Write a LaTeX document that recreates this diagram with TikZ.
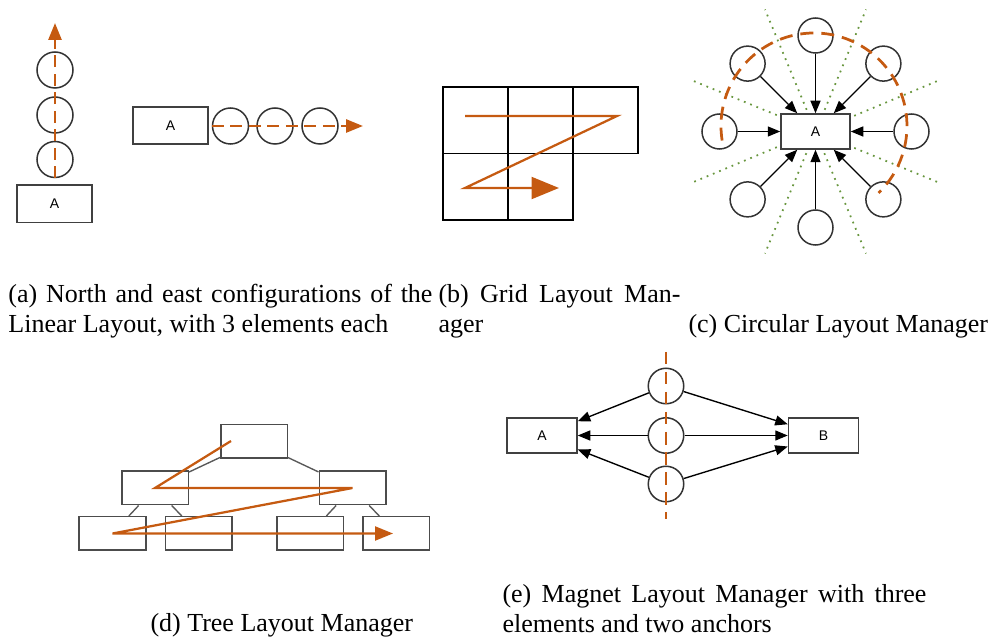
\documentclass[tikz,border=0pt]{standalone}
\usepackage{fontspec}
\setmainfont{Liberation Serif}
\newfontfamily\boxfont{Liberation Sans}
\usetikzlibrary{arrows.meta,calc}
\definecolor{layorange}{RGB}{197,90,17}
\definecolor{cutgreen}{RGB}{104,150,62}
\tikzset{
  comp/.style={draw=black!75, line width=0.6pt, minimum width=30pt, minimum height=15pt, inner sep=0pt, font=\boxfont\fontsize{5.6}{6}\selectfont},
  elem/.style={draw=black!80, circle, line width=0.6pt, minimum size=14.4pt, inner sep=0pt},
  cell/.style={draw, line width=0.6pt, minimum width=26pt, minimum height=26.6pt, inner sep=0pt},
  tbox/.style={draw=black!70, line width=0.6pt, minimum width=26.6pt, minimum height=13.4pt, inner sep=0pt},
  flow/.style={draw=layorange, line width=1.1pt, dash pattern=on 4.8pt off 2.6pt},
  pull/.style={draw, line width=0.55pt, -{Triangle[length=5pt,width=4pt]}},
  subcap/.style={inner sep=0pt, font=\fontsize{10.4}{12}\selectfont},
}
\begin{document}
\begin{tikzpicture}[x=0.4pt,y=0.4pt]
\useasboundingbox (0,0) rectangle (995,641);

% (a) linear layout, north
\node[comp] (na) at (54.5,437) {A};
\node[elem] (n1) at (55,481.5) {};
\node[elem] (n2) at (55,526) {};
\node[elem] (n3) at (55,571) {};
\coordinate (ntip) at (55,618);
\path[flow,-{Triangle[length=6.8pt,width=5.2pt]}] (n1.south) -- (ntip);

% (a) linear layout, east
\node[comp, minimum height=14.8pt] (ea) at (170.5,515.5) {A};
\node[elem] (e1) at (230.5,515) {};
\node[elem] (e2) at (275,515) {};
\node[elem] (e3) at (320,515) {};
\coordinate (etip) at (363,515);
\path[flow,-{Triangle[length=6.8pt,width=5.2pt]}] (e1.west) -- (etip);

% (b) grid
\foreach \n/\x/\y in {g1/475.5/520.5, g2/540.5/520.5, g3/605.5/520.5, g4/475.5/454, g5/540.5/454}
  \node[cell] (\n) at (\x,\y) {};
\coordinate (z1) at (465,525);
\coordinate (z2) at (617,525);
\coordinate (z3) at (465,453);
\coordinate (z4) at (559,453);
\draw[layorange, line width=0.9pt, -{Triangle[length=11pt,width=8.8pt]}] (z1) -- (z2) -- (z3) -- (z4);

% (c) circular
\node[comp, minimum width=27.6pt, minimum height=14pt] (ca) at (815.5,509.5) {A};
\foreach \a in {22.5,67.5,...,337.5}
  \draw[cutgreen, dotted, line width=0.7pt, shorten <=1.5pt] (ca.\a) -- ($(ca)+(\a:132)$);
\foreach \a in {0,45,...,315} {
  \node[elem, minimum size=14pt] (c\a) at ($(ca)+(\a:96)$) {};
  \draw[pull] (c\a) -- (ca);
}
\draw[flow, dash pattern=on 5.2pt off 3.2pt] ($(ca)+(-1.5,5.5)+(189:93)$) arc[start angle=189, end angle=-46, radius=93];

% (d) tree
\node[tbox] (root) at (254,199.5) {};
\node[tbox] (ml) at (155,153) {};
\node[tbox] (mr) at (352.5,153) {};
\node[tbox] (b1) at (112.5,107.5) {};
\node[tbox] (b2) at (198.5,107.5) {};
\node[tbox] (b3) at (310,107.5) {};
\node[tbox] (b4) at (396,107.5) {};
\foreach \p/\c in {root/ml, root/mr, ml/b1, ml/b2, mr/b3, mr/b4}
  \draw[black!65, line width=0.55pt] (\p) -- (\c);
\draw[layorange, line width=0.9pt, -{Triangle[length=7.2pt,width=5.6pt]}] ($(root)+(-23,0.5)$) -- (ml.center) -- (mr.center) -- (b1.center) -- ($(b4.center)+(-3,0)$);

% (e) magnet
\node[comp, minimum width=28pt, minimum height=14pt] (ma) at (542,205.5) {A};
\node[comp, minimum width=28pt, minimum height=14pt] (mb) at (823.5,205.5) {B};
\foreach \n/\y in {m1/255, m2/205.5, m3/157} {
  \node[elem, minimum size=14.2pt] (\n) at (666,\y) {};
  \draw[pull] (\n) -- (ma);
  \draw[pull] (\n) -- (mb);
}
\coordinate (mtop) at (666,289);
\coordinate (mbot) at (666,122);
\draw[flow, dash pattern=on 5pt off 3pt] (mtop) -- (mbot);

% captions
\node[subcap, anchor=base west, text width=169.6pt, align=justify] (capa) at (8,338) {(a) North and east configurations of the\linebreak Linear Layout, with 3 elements each};
\node[subcap, anchor=base west, text width=96.8pt, align=justify] (capb) at (438,338) {(b) Grid Layout Man-\linebreak ager};
\node[subcap, anchor=base west] (capc) at (688,308) {(c) Circular Layout Manager};
\node[subcap, anchor=base west] (capd) at (150,9) {(d) Tree Layout Manager};
\node[subcap, anchor=base west, text width=169.6pt, align=justify] (cape) at (502,38) {(e) Magnet Layout Manager with three\linebreak elements and two anchors};
\end{tikzpicture}
\end{document}
